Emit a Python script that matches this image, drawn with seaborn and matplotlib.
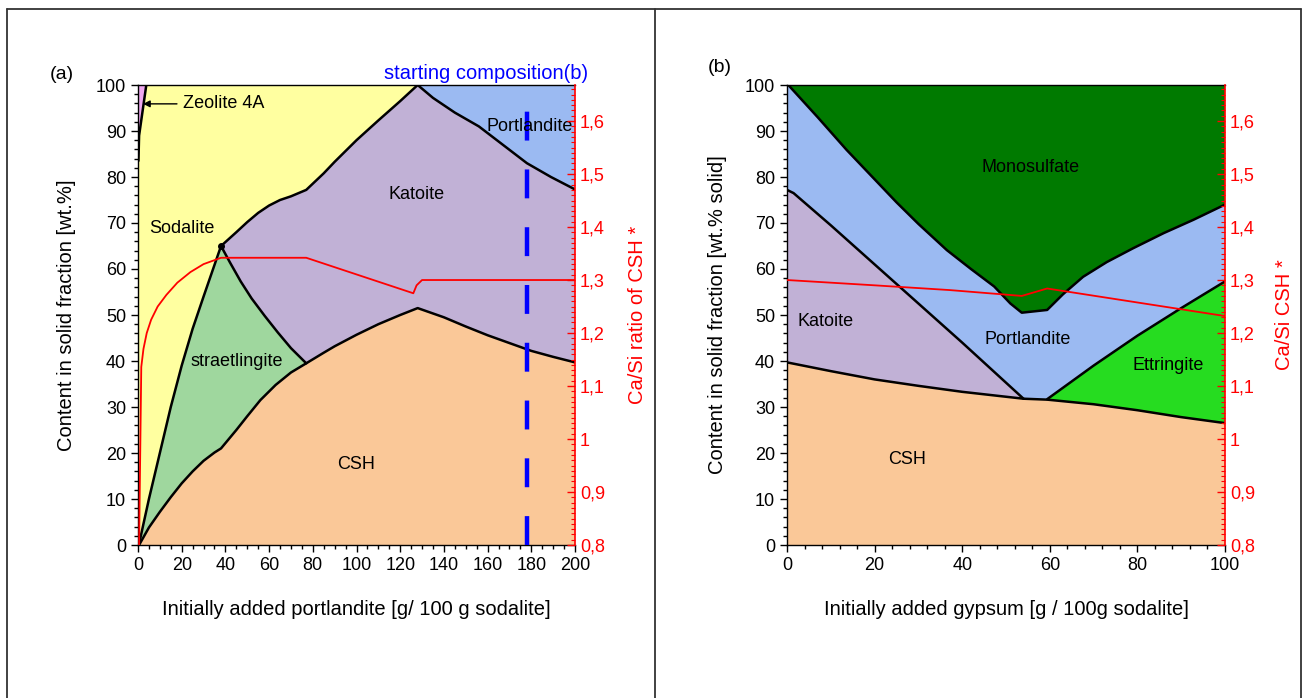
import numpy as np
import matplotlib
matplotlib.use("Agg")
import matplotlib.pyplot as plt
import seaborn as sns
from matplotlib.ticker import MultipleLocator, FuncFormatter
from matplotlib.lines import Line2D

# ---------------- panel (a): portlandite addition ----------------
# phase boundaries (cumulative wt.%)
csh_a_x = [0.5, 5, 10, 15, 20, 25, 30, 35, 38, 45, 50, 56, 63, 70, 77,
           85, 90, 100, 110, 120, 128, 140, 150, 160, 170, 180, 190, 200]
csh_a_y = [0, 3.8, 7.2, 10.4, 13.4, 16, 18.3, 20.1, 21, 25, 28, 31.5, 34.8, 37.5, 39.5,
           41.8, 43.2, 45.7, 48, 50, 51.5, 49.5, 47.5, 45.6, 43.9, 42.2, 40.9, 39.7]
str_left_x = [0.7, 5, 10, 15, 20, 25, 30, 34, 38]
str_left_y = [0.7, 10, 20, 30, 39, 47, 54, 59.5, 65]
str_right_x = [38, 42, 47, 52, 58, 64, 70, 77]
str_right_y = [65, 61.5, 57.3, 53.6, 49.8, 46.2, 42.8, 39.5]
kat_top_x = [38, 45, 50, 55, 60, 65, 70, 77, 85, 90, 100, 110, 120, 128,
             135, 145, 156, 167, 178, 189, 200]
kat_top_y = [65, 68, 70.2, 72.2, 73.8, 75, 75.8, 77.2, 80.8, 83.3, 88, 92.3, 96.5, 100,
             97.2, 94, 91, 87, 83, 80, 77.3]
zeo_x = [0.2, 0.5, 3.8]
zeo_y = [83.5, 89, 100]
# Ca/Si ratio of CSH
casi_a_x = [0.5, 1.5, 2.5, 4, 6, 9, 13, 18, 24, 30, 38, 77, 126, 127.5, 130, 200]
casi_a_y = [0.8, 1.136, 1.17, 1.2, 1.225, 1.25, 1.272, 1.295, 1.315, 1.33, 1.342, 1.342,
            1.275, 1.29, 1.3, 1.3]
start_comp = 178

# ---------------- panel (b): gypsum addition ----------------
csh_b_x = [0, 10, 20, 30, 40, 54, 59.4, 70, 80, 90, 100]
csh_b_y = [39.7, 37.8, 36, 34.6, 33.3, 31.8, 31.6, 30.6, 29.3, 27.8, 26.5]
kat_b_x = [0, 1.5, 10, 20, 30, 40, 54]
kat_b_y = [77.2, 76.5, 69.5, 61, 52.5, 44, 31.8]
mono_x = [0.3, 7, 13.6, 20, 25, 30, 36.5, 42, 47.3, 51, 53.6, 59.4, 63, 67.6, 73, 79, 86, 92.8, 100]
mono_y = [100, 93, 85.9, 79.5, 74.5, 69.8, 64.1, 60, 56.2, 52.5, 50.5, 51.1, 54.5, 58.3, 61.5,
          64.5, 67.8, 70.7, 74]
ett_x = [59.4, 70, 80, 90, 100]
ett_y = [31.7, 39, 45.5, 51.5, 57.3]
casi_b_x = [0, 20, 37.2, 53.6, 59.4, 100]
casi_b_y = [1.3, 1.29, 1.281, 1.27, 1.284, 1.232]

# colours
c_csh = "#FAC898"
c_str = "#9FD79E"
c_kat = "#C1B1D6"
c_sod = "#FFFFA0"
c_por = "#9BBAF2"
c_zeo = "#F0A8F0"
c_mono = "#007A00"
c_ett = "#26DC20"

sns.set_theme(style="ticks")
plt.rcParams["font.family"] = ["Liberation Sans", "DejaVu Sans"]
plt.rcParams["axes.linewidth"] = 1.0
plt.rcParams["text.color"] = "black"
plt.rcParams["axes.labelcolor"] = "black"

fig = plt.figure(figsize=(13.03, 6.98), dpi=100)
ax_a = fig.add_axes([138 / 1303, 153 / 698, 437 / 1303, 460 / 698])
ax_b = fig.add_axes([787 / 1303, 153 / 698, 438 / 1303, 460 / 698])

FS = 13      # tick labels and phase names
FL = 14.5    # axis titles


def poly(ax, xs, ys, color):
    ax.fill(xs, ys, color=color, lw=0, zorder=1)


def boundary(ax, xs, ys, lw=1.8):
    sns.lineplot(x=xs, y=ys, ax=ax, color="black", lw=lw, sort=False,
                 estimator=None, zorder=3)


def comma_fmt(v, p):
    return f"{v:.1f}".rstrip("0").rstrip(".").replace(".", ",")


def style_axes(ax, xmax, xmaj, xmin, xlabel, ylabel, rlabel, ylab_x, rlab_x):
    ax.set_xlim(0, xmax)
    ax.set_ylim(0, 100)
    ax.xaxis.set_major_locator(MultipleLocator(xmaj))
    ax.xaxis.set_minor_locator(MultipleLocator(xmin))
    ax.yaxis.set_major_locator(MultipleLocator(10))
    ax.yaxis.set_minor_locator(MultipleLocator(2))
    ax.tick_params(which="both", direction="out", colors="black", labelsize=FS,
                   top=False, right=False)
    ax.tick_params(which="major", length=5, width=1)
    ax.tick_params(which="minor", length=3, width=1)
    for s in ["left", "bottom", "top"]:
        ax.spines[s].set_color("black")
    ax.spines["right"].set_visible(False)
    ax.set_xlabel(xlabel, fontsize=FL)
    ax.set_ylabel(ylabel, fontsize=FL)
    ax.xaxis.set_label_coords(0.5, -0.12)
    ax.yaxis.set_label_coords(ylab_x, 0.5)

    ax2 = ax.twinx()
    ax2.set_ylim(0.8, 1.668)
    ax2.yaxis.set_major_locator(MultipleLocator(0.1))
    ax2.yaxis.set_minor_locator(MultipleLocator(0.01))
    ax2.yaxis.set_major_formatter(FuncFormatter(comma_fmt))
    ax2.tick_params(which="both", direction="in", colors="red", labelsize=FS, labelcolor="red")
    ax2.tick_params(which="major", length=6, width=1)
    ax2.tick_params(which="minor", length=3, width=0.8)
    ax2.spines["right"].set_color("red")
    ax2.spines["right"].set_linewidth(1.2)
    for s in ["left", "bottom", "top"]:
        ax2.spines[s].set_visible(False)
    ax2.set_ylabel(rlabel, color="red", fontsize=FL)
    ax2.yaxis.set_label_coords(rlab_x, 0.5)
    return ax2


# ---------------- draw panel (a) ----------------
ax = ax_a
poly(ax, [0, 200, 200, 0], [0, 0, 100, 100], c_sod)
por_x = [x for x in kat_top_x if x >= 128]
por_y = [y for x, y in zip(kat_top_x, kat_top_y) if x >= 128]
poly(ax, por_x + [200], por_y + [100], c_por)
poly(ax, kat_top_x + [200, 38], kat_top_y + [0, 0], c_kat)
poly(ax, str_left_x + str_right_x[1:] + [77, 0.7], str_left_y + str_right_y[1:] + [0, 0], c_str)
poly(ax, csh_a_x + [200, 0.5], csh_a_y + [0, 0], c_csh)
poly(ax, [0, 0.5, 3.8, 0], [88, 89, 100, 100], c_zeo)

boundary(ax, csh_a_x, csh_a_y)
boundary(ax, str_left_x, str_left_y)
boundary(ax, str_right_x, str_right_y)
boundary(ax, kat_top_x, kat_top_y)
boundary(ax, zeo_x, zeo_y)
ax.plot([38], [65], "o", color="black", ms=4, zorder=4)
ax.axvline(start_comp, color="#0000FF", lw=3.2, ls=(0, (6.5, 6.5)), zorder=4)

ax.text(20.1, 68.7, "Sodalite", ha="center", va="center", fontsize=FS, zorder=5)
ax.text(127.7, 76.1, "Katoite", ha="center", va="center", fontsize=FS, zorder=5)
ax.text(179.4, 90.9, "Portlandite", ha="center", va="center", fontsize=FS, zorder=5)
ax.text(45.3, 40, "straetlingite", ha="center", va="center", fontsize=FS, zorder=5)
ax.text(99.8, 17.4, "CSH", ha="center", va="center", fontsize=FS, zorder=5)
ax.annotate("Zeolite 4A", xy=(2.3, 95.9), xytext=(20.6, 95.9), ha="left", va="center",
            fontsize=FS, zorder=5,
            arrowprops=dict(arrowstyle="-|>", color="black", lw=1, mutation_scale=10,
                            shrinkA=2, shrinkB=0))
ax.text(159.3, 1.026, "starting composition(b)", color="#0000FF", ha="center", va="center",
        fontsize=FL, transform=ax.get_xaxis_transform())
ax.text(-0.174, 1.022, "(a)", ha="center", va="center", fontsize=14, transform=ax.transAxes)

ax2a = style_axes(ax, 200, 20, 5, "Initially added portlandite [g/ 100 g sodalite]",
                  "Content in solid fraction [wt.%]", "Ca/Si ratio of CSH *", -0.142, 1.121)
sns.lineplot(x=casi_a_x, y=casi_a_y, ax=ax2a, color="red", lw=1.3, sort=False, estimator=None)

# ---------------- draw panel (b) ----------------
ax = ax_b
poly(ax, [0, 100, 100, 0], [0, 0, 100, 100], c_mono)
poly(ax, [0] + mono_x + [100, 0], [100] + mono_y + [0, 0], c_por)
poly(ax, kat_b_x + [0], kat_b_y + [0], c_kat)
poly(ax, ett_x + [100, 59.4], ett_y + [0, 0], c_ett)
poly(ax, csh_b_x + [100, 0], csh_b_y + [0, 0], c_csh)

boundary(ax, csh_b_x, csh_b_y)
boundary(ax, kat_b_x, kat_b_y)
boundary(ax, mono_x, mono_y)
boundary(ax, ett_x, ett_y)

ax.text(55.5, 82, "Monosulfate", ha="center", va="center", fontsize=FS, zorder=5)
ax.text(8.7, 48.5, "Katoite", ha="center", va="center", fontsize=FS, zorder=5)
ax.text(55, 44.6, "Portlandite", ha="center", va="center", fontsize=FS, zorder=5)
ax.text(87, 39, "Ettringite", ha="center", va="center", fontsize=FS, zorder=5)
ax.text(27.4, 18.5, "CSH", ha="center", va="center", fontsize=FS, zorder=5)
ax.text(-0.153, 1.037, "(b)", ha="center", va="center", fontsize=14, transform=ax.transAxes)

ax2b = style_axes(ax, 100, 20, 4, "Initially added gypsum [g / 100g sodalite]",
                  "Content in solid fraction [wt.% solid]", "Ca/Si CSH *", -0.137, 1.114)
sns.lineplot(x=casi_b_x, y=casi_b_y, ax=ax2b, color="red", lw=1.3, sort=False, estimator=None)

# outer frame and divider
frame_kw = dict(color="#333333", lw=1.3, transform=fig.transFigure)
fig.add_artist(Line2D([7 / 1303, 1301 / 1303], [1 - 9 / 698, 1 - 9 / 698], **frame_kw))
fig.add_artist(Line2D([7 / 1303, 7 / 1303], [0, 1 - 9 / 698], **frame_kw))
fig.add_artist(Line2D([1301 / 1303, 1301 / 1303], [0, 1 - 9 / 698], **frame_kw))
fig.add_artist(Line2D([655 / 1303, 655 / 1303], [0, 1 - 9 / 698], **frame_kw))

fig.savefig("out.png", dpi=100)
